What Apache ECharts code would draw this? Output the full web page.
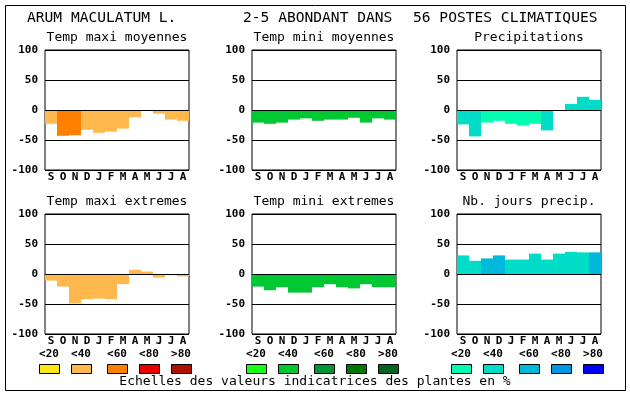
<!DOCTYPE html>
<html><head><meta charset="utf-8">
<script src="https://cdn.jsdelivr.net/npm/echarts@6/dist/echarts.min.js"></script>
<style>html,body{margin:0;padding:0;background:#fff}#c{width:630px;height:394px}</style>
</head><body><div id="c"></div>
<script>
var months = ['S','O','N','D','J','F','M','A','M','J','J','A'];
var yTicks = [-100,-50,0,50,100];
var legendLabels = ['<20','<40','<60','<80','>80'];
var headLeft = 'ARUM MACULATUM L.';
var headMid = '2-5 ABONDANT DANS';
var headRight = '56 POSTES CLIMATIQUES';
var caption = 'Echelles des valeurs indicatrices des plantes en %';

var titles = ['Temp maxi moyennes','Temp mini moyennes','Precipitations',
              'Temp maxi extremes','Temp mini extremes','Nb. jours precip.'];

var tmaxMoy    = [-23,-43,-42,-33,-38,-36,-31,-12,0,-6,-16,-18];
var tmaxMoyCls = [1,2,2,1,1,1,1,1,1,1,1,1];
var tminMoy    = [-21,-23,-21,-16,-14,-18,-16,-16,-13,-21,-14,-16];
var tminMoyCls = [1,1,1,1,1,1,1,1,1,1,1,1];
var precip     = [-24,-44,-21,-18,-23,-26,-23,-34,0,10,22,17];
var precipCls  = [1,1,0,0,0,0,0,1,1,1,1,1];
var tmaxExt    = [-11,-21,-49,-42,-41,-42,-17,7,4,-6,-2,-4];
var tmaxExtCls = [1,1,1,1,1,1,1,1,1,1,1,1];
var tminExt    = [-21,-27,-22,-31,-31,-22,-17,-22,-24,-17,-22,-22];
var tminExtCls = [1,1,1,1,1,1,1,1,1,1,1,1];
var nbJours    = [31,22,26,31,24,24,34,24,34,37,36,36];
var nbJoursCls = [1,1,2,2,1,1,1,1,1,1,1,2];

var orangePal = ['#FFE619','#FFB84D','#FF8000','#E60000','#B01000'];
var greenPal  = ['#14FF14','#00C832','#009632','#007800','#00641E'];
var bluePal   = ['#00FFB0','#00DCC8','#00B8DC','#0096E6','#0000FF'];

var panels = [
  {v:tmaxMoy, c:tmaxMoyCls, p:orangePal},
  {v:tminMoy, c:tminMoyCls, p:greenPal},
  {v:precip,  c:precipCls,  p:bluePal},
  {v:tmaxExt, c:tmaxExtCls, p:orangePal},
  {v:tminExt, c:tminExtCls, p:greenPal},
  {v:nbJours, c:nbJoursCls, p:bluePal}
];
var pals = [orangePal, greenPal, bluePal];

var colLeft = [45, 252, 457];
var rowTop = [50, 214];
var W = 144, H = 120;
var mono = 'DejaVu Sans Mono';

var grids=[], xAxes=[], yAxes=[], series=[], graphics=[];
panels.forEach(function(pn, i){
  var col = i % 3, row = Math.floor(i/3);
  grids.push({left: colLeft[col], top: rowTop[row], width: W, height: H,
    show: true, borderColor: '#000', borderWidth: 1, backgroundColor: '#fff'});
  xAxes.push({type:'category', gridIndex:i, data: months,
    axisLine:{show:false}, axisTick:{show:false},
    axisLabel:{interval:0, margin:2, color:'#000', fontFamily:mono, fontWeight:'bold', fontSize:11}});
  yAxes.push({type:'value', gridIndex:i, min:yTicks[0], max:yTicks[yTicks.length-1], interval:50, z:5,
    axisLine:{show:false}, axisTick:{show:false},
    splitLine:{show:true, lineStyle:{color:'#000', width:1}},
    axisLabel:{margin:7, color:'#000', fontFamily:mono, fontWeight:'bold', fontSize:11}});
  series.push({type:'bar', xAxisIndex:i, yAxisIndex:i, barCategoryGap:'0%', barGap:'0%',
    animation:false,
    data: pn.v.map(function(val, k){ return {value: val, itemStyle:{color: pn.p[pn.c[k]]}}; })});
  graphics.push({type:'text', x: colLeft[col] + W/2, y: rowTop[row] - 12,
    style:{text: titles[i], font: '13px "'+mono+'"', fill:'#000', textAlign:'center', textVerticalAlign:'middle'}});
});

// frame
graphics.push({type:'rect', shape:{x:5.5, y:5.5, width:620, height:385},
  style:{fill:null, stroke:'#000', lineWidth:1}, z:-1});
// headings
graphics.push({type:'text', x:27, y:18, style:{text:headLeft, font:'14.6px "'+mono+'"', fill:'#000', textVerticalAlign:'middle'}});
graphics.push({type:'text', x:243, y:18, style:{text:headMid, font:'14.6px "'+mono+'"', fill:'#000', textVerticalAlign:'middle'}});
graphics.push({type:'text', x:413, y:18, style:{text:headRight, font:'14.6px "'+mono+'"', fill:'#000', textVerticalAlign:'middle'}});
// legend
var offs = [0, 32, 68, 100, 132];
pals.forEach(function(pal, g){
  var c0 = colLeft[g] + 4;
  pal.forEach(function(colr, k){
    var cx = c0 + offs[k];
    graphics.push({type:'text', x: cx, y: 354, style:{text: legendLabels[k], font:'bold 11px "'+mono+'"', fill:'#000', textAlign:'center', textVerticalAlign:'middle'}});
    graphics.push({type:'rect', shape:{x: cx-10+0.5, y:364.5, width:20, height:9}, style:{fill: colr, stroke:'#000', lineWidth:1}});
  });
});
graphics.push({type:'text', x:315, y:382, style:{text: caption, font:'13px "'+mono+'"', fill:'#000', textAlign:'center', textVerticalAlign:'middle'}});

var chart = echarts.init(document.getElementById('c'), null, {renderer:'canvas'});
chart.setOption({animation:false, grid:grids, xAxis:xAxes, yAxis:yAxes, series:series, graphic:graphics});
</script></body></html>
